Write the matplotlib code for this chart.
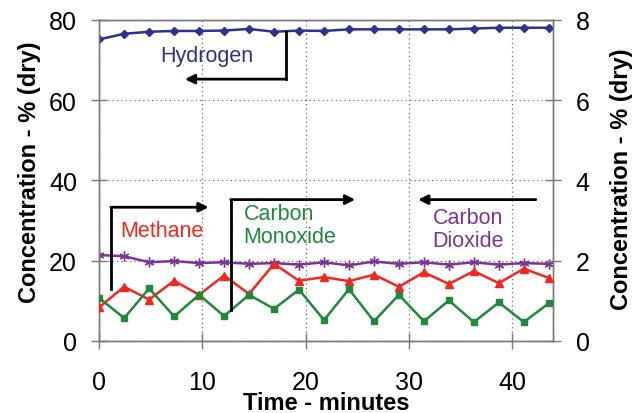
import matplotlib
matplotlib.use("Agg")
import matplotlib.pyplot as plt
import numpy as np

plt.rcParams['font.family'] = ['Liberation Sans', 'DejaVu Sans']

# sample times (minutes) and concentrations
time_min = [0, 2.42, 4.84, 7.26, 9.68, 12.1, 14.52, 16.94, 19.36, 21.78,
            24.2, 26.62, 29.04, 31.46, 33.88, 36.3, 38.72, 41.14, 43.56]
hydrogen = [75.1, 76.5, 77.0, 77.2, 77.2, 77.3, 77.7, 77.0, 77.3, 77.2,
            77.6, 77.6, 77.6, 77.6, 77.6, 77.8, 78.0, 78.0, 78.0]
carbon_dioxide = [21.4, 21.1, 19.6, 19.9, 19.4, 19.6, 19.2, 19.4, 19.0, 19.6,
                  18.8, 19.8, 19.2, 19.6, 19.0, 19.6, 19.0, 19.4, 19.2]
# right axis (0-8 %)
methane = [0.84, 1.35, 1.03, 1.50, 1.15, 1.63, 1.17, 1.92, 1.50, 1.59,
           1.49, 1.65, 1.35, 1.71, 1.42, 1.74, 1.44, 1.80, 1.57]
carbon_monoxide = [1.07, 0.57, 1.31, 0.61, 1.15, 0.62, 1.15, 0.80, 1.28, 0.52,
                   1.29, 0.49, 1.15, 0.49, 1.01, 0.47, 0.96, 0.47, 0.94]

x_ticks = [0, 10, 20, 30, 40]
left_ticks = [0, 20, 40, 60, 80]
right_ticks = [0, 2, 4, 6, 8]

c_h2 = '#2e3192'
c_co2 = '#7b3595'
c_ch4 = '#f5261e'
c_co = '#1f8a3c'
spine_col = '#7a7a7a'

fig = plt.figure(figsize=(6.4, 4.14), dpi=100)
ax = fig.add_axes([0.155, 0.174, 0.7096, 0.776])
ax2 = ax.twinx()

ax.plot(time_min, hydrogen, color=c_h2, lw=1.8, marker='D', ms=4.5, zorder=3)
ax.plot(time_min, carbon_dioxide, color=c_co2, lw=1.8, marker=(6, 2, 0),
        ms=7, mew=1, zorder=3)
ax2.plot(time_min, methane, color=c_ch4, lw=1.8, marker='^', ms=6, zorder=3)
ax2.plot(time_min, carbon_monoxide, color=c_co, lw=1.8, marker='s', ms=5, zorder=3)

ax.set_xlim(0, 44)
ax.set_ylim(0, 80)
ax2.set_ylim(0, 8)
ax.set_xticks(x_ticks)
ax.set_yticks(left_ticks)
ax2.set_yticks(right_ticks)

ax.grid(True, ls=(0, (1, 2.5)), color='#707070', lw=0.9)
for a in (ax, ax2):
    for s in a.spines.values():
        s.set_color(spine_col)
        s.set_linewidth(1.0)
ax.tick_params(axis='both', direction='inout', length=12, width=1,
               color=spine_col, labelsize=18, pad=10)
ax.tick_params(axis='x', pad=15)
ax2.tick_params(axis='y', direction='inout', length=12, width=1,
                color=spine_col, labelsize=18, pad=10)

lab_kw = dict(fontsize=17, fontweight='bold')
ax.set_ylabel('Concentration - % (dry)', **lab_kw)
ax.yaxis.set_label_coords(-0.153, 0.528)
ax.yaxis.label.set_va('center')
ax2.set_ylabel('Concentration - % (dry)', rotation=90, **lab_kw)
ax2.yaxis.set_label_coords(1.151, 0.507)
ax2.yaxis.label.set_va('center')
ax.set_xlabel('Time - minutes', **lab_kw)
ax.xaxis.set_label_coords(0.499, -0.193)
ax.xaxis.label.set_va('center')

# annotations with pointer arrows
txt_kw = dict(fontsize=15.5, zorder=5)
arr = dict(arrowstyle='-|>', color='black', lw=2, mutation_scale=14,
           shrinkA=0, shrinkB=0)

ax2.text(10.4, 7.11, 'Hydrogen', color=c_h2, ha='center', va='center', **txt_kw)
ax2.plot([18.1, 18.1], [7.7, 6.52], color='black', lw=2, zorder=4)
ax2.annotate('', xy=(8.3, 6.52), xytext=(18.1, 6.52), arrowprops=arr)

ax2.text(6.1, 2.75, 'Methane', color=c_ch4, ha='center', va='center', **txt_kw)
ax2.plot([1.13, 1.13], [1.3, 3.33], color='black', lw=2, zorder=4)
ax2.annotate('', xy=(10.6, 3.33), xytext=(1.13, 3.33), arrowprops=arr)

ax2.text(14.0, 2.89, 'Carbon\nMonoxide', color=c_co, ha='left', va='center',
         linespacing=1.15, **txt_kw)
ax2.plot([12.74, 12.74], [0.77, 3.52], color='black', lw=2, zorder=4)
ax2.annotate('', xy=(24.8, 3.52), xytext=(12.74, 3.52), arrowprops=arr)

ax2.text(35.7, 2.79, 'Carbon\nDioxide', color=c_co2, ha='center', va='center',
         linespacing=1.15, **txt_kw)
ax2.annotate('', xy=(30.9, 3.52), xytext=(42.3, 3.52), arrowprops=arr)

fig.savefig('out.png', dpi=100)
